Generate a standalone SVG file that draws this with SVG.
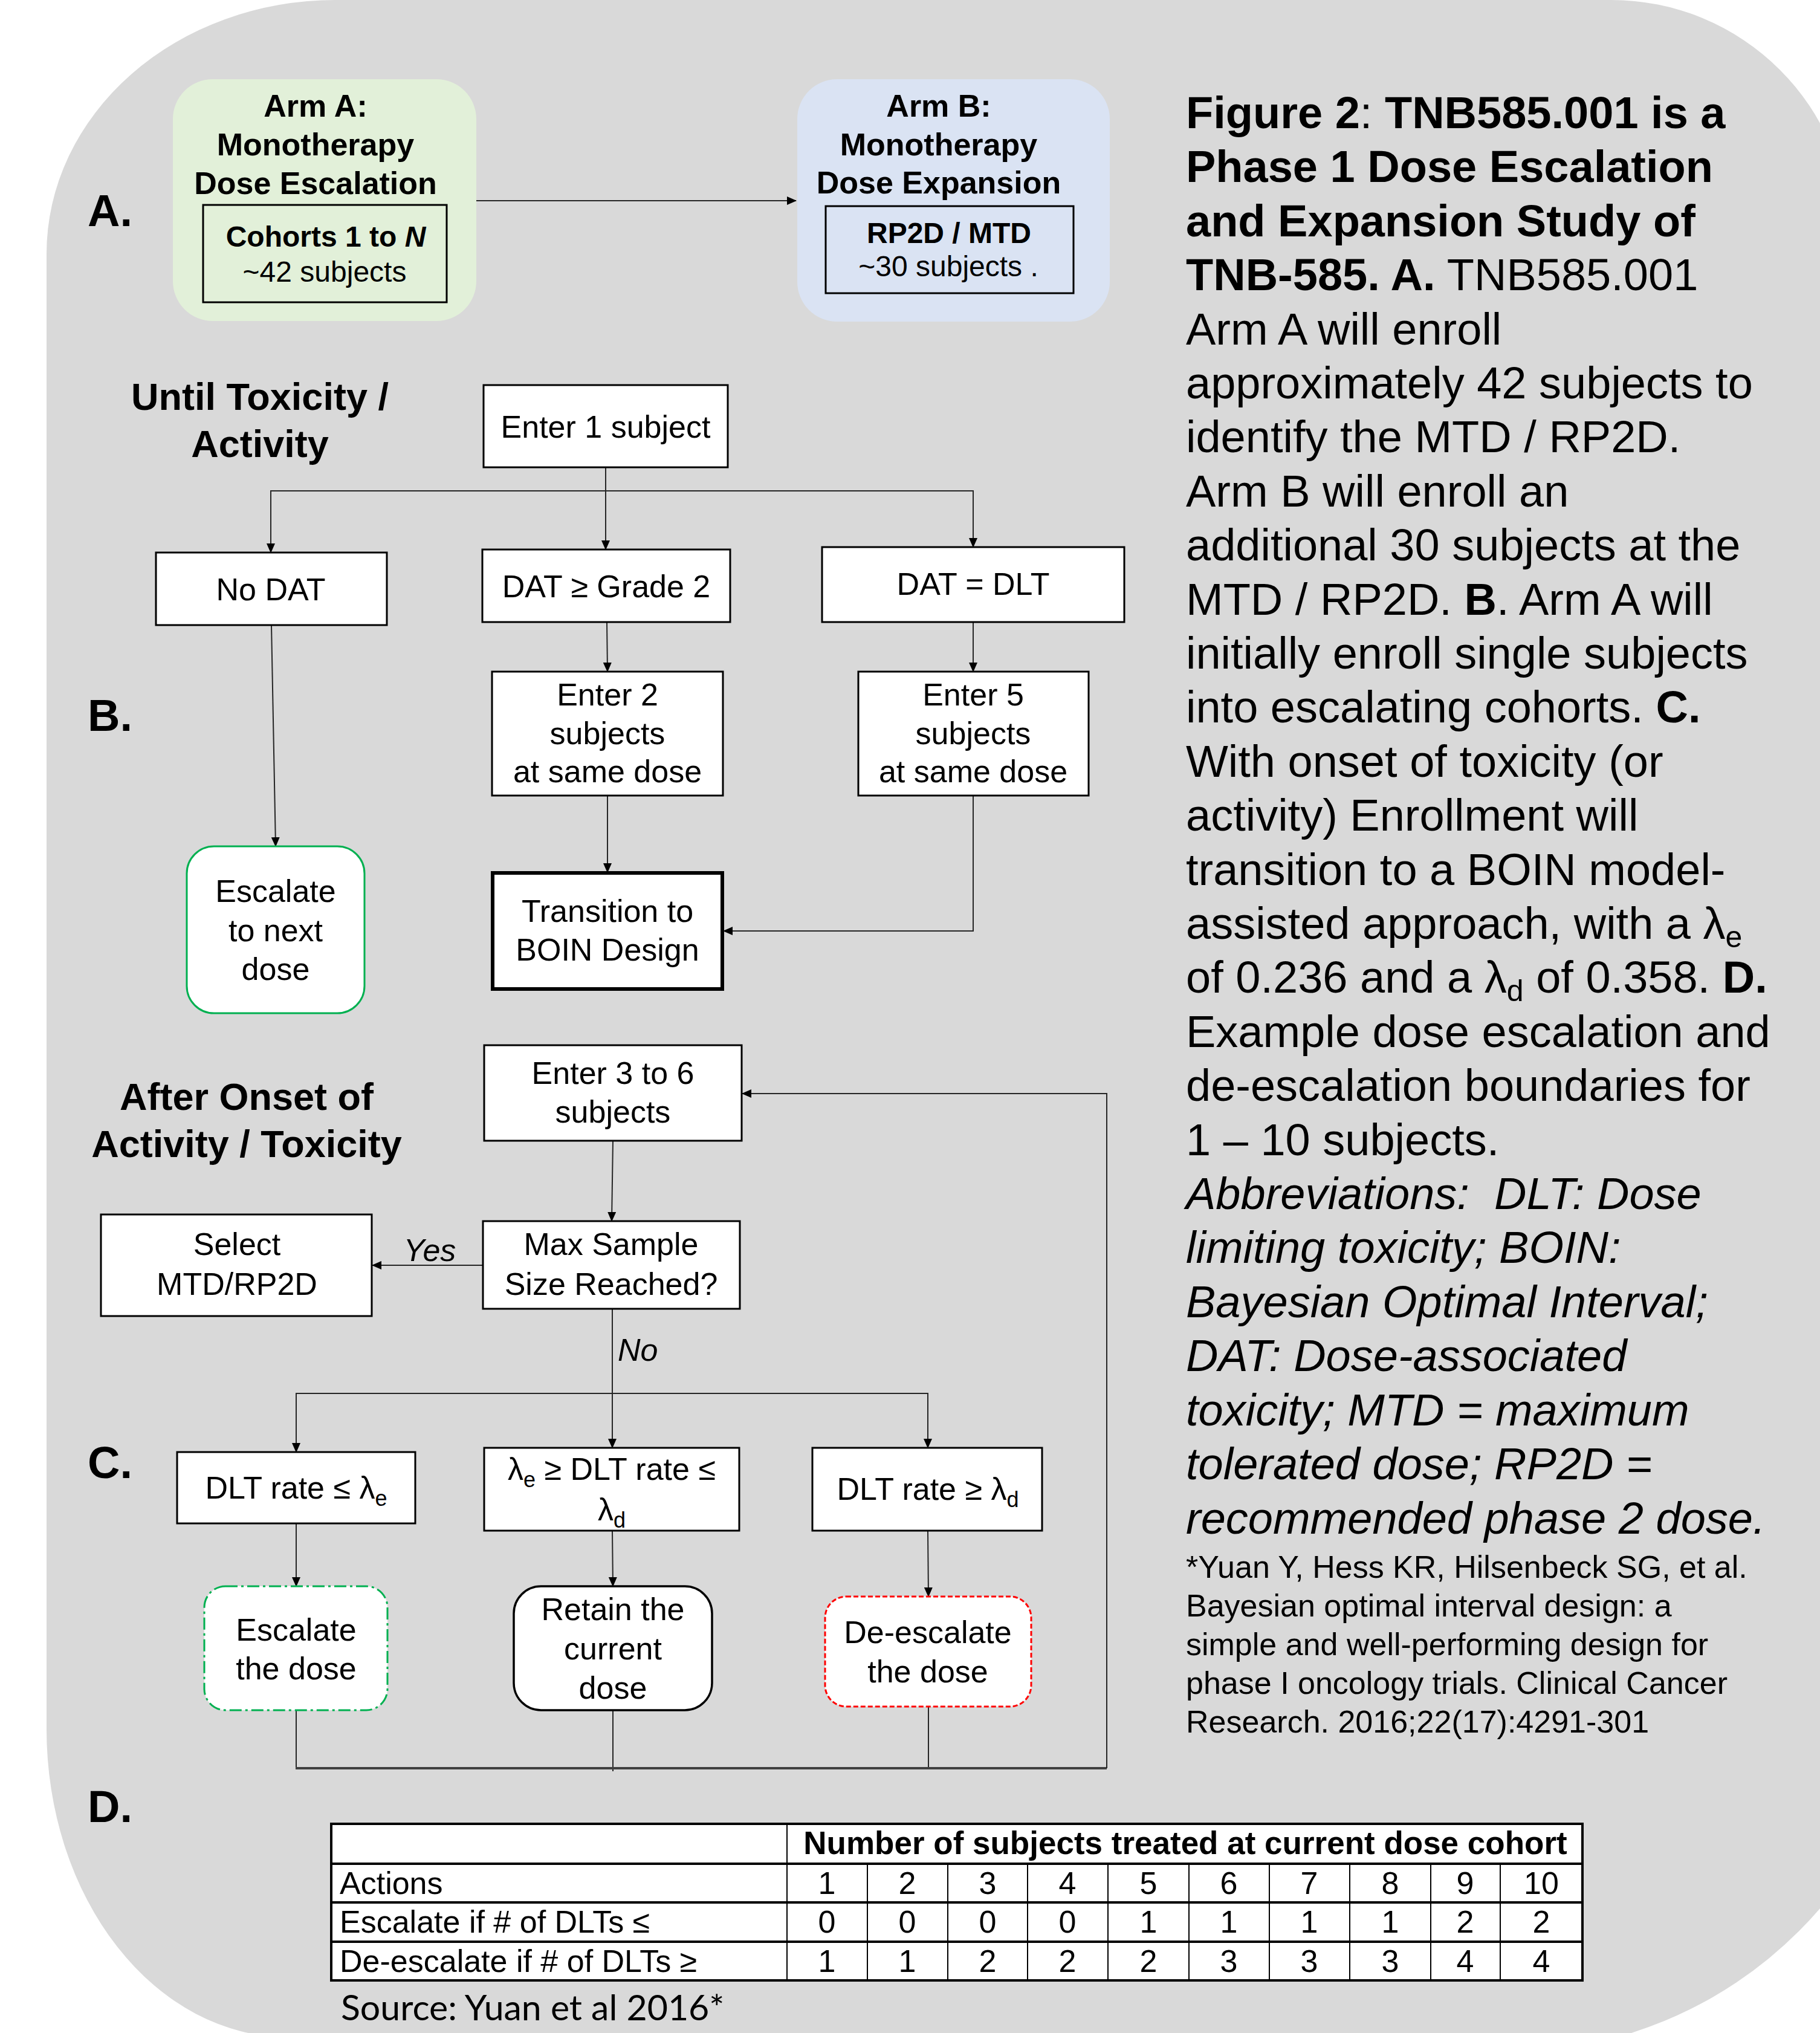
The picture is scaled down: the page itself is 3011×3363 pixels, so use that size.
<svg xmlns="http://www.w3.org/2000/svg" width="3011" height="3363" viewBox="0 0 3011 3363">
<style>
text{font-family:"Liberation Sans",Arial,sans-serif;fill:#000}
.c{text-anchor:middle}
.f52{font-size:52px}
.f48{font-size:48px}
.b{font-weight:bold}
.i{font-style:italic}
.box{fill:#fff;stroke:#000;stroke-width:3}
.con{fill:none;stroke:#262626;stroke-width:2}
.cap{font-size:74px}
.ref{font-size:52px}
.lbl{font-size:74px;font-weight:bold}
.hdr{font-size:63px;font-weight:bold;text-anchor:middle}
.tb{font-size:52px}
.grid{stroke:#000;stroke-width:2;fill:none}
.gridh{stroke:#000;stroke-width:4;fill:none}
</style>
<defs>
<marker id="ah" markerUnits="userSpaceOnUse" markerWidth="16" markerHeight="14" refX="15" refY="7" orient="auto">
<path d="M0,0 L16,7 L0,14 Z" fill="#000"/>
</marker>
</defs>
<rect x="0" y="0" width="3011" height="3363" fill="#fff"/>
<path id="background" d="M77,420 A478,420 0 0 1 555,0 L2666,0 A394,394 0 0 1 3060,394 L3177,2710 A685,685 0 0 1 2492,3395 L477,3370 A400,510 0 0 1 77,2860 Z" fill="#d9d9d9"/>

<g id="section-labels">
<text class="lbl" x="145" y="374">A.</text>
<text class="lbl" x="145" y="1209">B.</text>
<text class="lbl" x="145" y="2445">C.</text>
<text class="lbl" x="145" y="3014">D.</text>
<text class="hdr" x="430" y="678">Until Toxicity /</text>
<text class="hdr" x="430" y="756">Activity</text>
<text class="hdr" x="408" y="1836">After Onset of</text>
<text class="hdr" x="408" y="1914">Activity / Toxicity</text>
</g>

<g id="connectors">
<path class="con" d="M788,332 H1317" marker-end="url(#ah)"/>
<path class="con" d="M1002,773 V909" marker-end="url(#ah)"/>
<path class="con" d="M448,914 V812 H1610 V905" marker-end="url(#ah)"/>
<path class="con" d="M448,812 V914" marker-end="url(#ah)"/>
<path class="con" d="M449,1034 L456,1400" marker-end="url(#ah)"/>
<path class="con" d="M1004,1029 L1005,1111" marker-end="url(#ah)"/>
<path class="con" d="M1610,1029 V1111" marker-end="url(#ah)"/>
<path class="con" d="M1005,1316 V1443" marker-end="url(#ah)"/>
<path class="con" d="M1610,1316 V1540 H1197" marker-end="url(#ah)"/>
<path class="con" d="M1014,1887 L1012,2020" marker-end="url(#ah)"/>
<path class="con" d="M799,2093 H616" marker-end="url(#ah)"/>
<path class="con" d="M1013,2165 V2395" marker-end="url(#ah)"/>
<path class="con" d="M490,2402 V2305 H1535 V2395" marker-end="url(#ah)"/>
<path class="con" d="M490,2305 V2402" marker-end="url(#ah)"/>
<path class="con" d="M490,2520 V2624" marker-end="url(#ah)"/>
<path class="con" d="M1013,2532 L1014,2624" marker-end="url(#ah)"/>
<path class="con" d="M1535,2532 L1536,2641" marker-end="url(#ah)"/>
<path class="con" d="M490,2829 V2925"/>
<path class="con" d="M1014,2829 V2930"/>
<path class="con" d="M1536,2824 V2927"/>
<path class="con" d="M489,2925 H1831" style="stroke-width:4;stroke:#404040"/>
<path class="con" d="M1831,2925 V1809 H1228" marker-end="url(#ah)"/>
<text class="f52 i c" x="711" y="2086">Yes</text>
<text class="f52 i" x="1022" y="2251">No</text>
</g>

<g id="armA">
<rect x="286" y="131" width="502" height="400" rx="66" fill="#e2f0d9"/>
<text class="f52 b c" x="522" y="193">Arm A:</text>
<text class="f52 b c" x="522" y="257">Monotherapy</text>
<text class="f52 b c" x="522" y="321">Dose Escalation</text>
<rect x="336" y="339" width="403" height="161" fill="none" stroke="#000" stroke-width="3"/>
<text class="f48 b c" x="539" y="408">Cohorts 1 to <tspan class="i">N</tspan></text>
<text class="f48 c" x="537" y="466">~42 subjects</text>
</g>

<g id="armB">
<rect x="1319" y="131" width="517" height="401" rx="66" fill="#dae3f3"/>
<text class="f52 b c" x="1553" y="193">Arm B:</text>
<text class="f52 b c" x="1553" y="257">Monotherapy</text>
<text class="f52 b c" x="1553" y="320">Dose Expansion</text>
<rect x="1366" y="341" width="410" height="144" fill="none" stroke="#000" stroke-width="3"/>
<text class="f48 b c" x="1570" y="402">RP2D / MTD</text>
<text class="f48 c" x="1569" y="457">~30 subjects .</text>
</g>

<g id="enter1">
<rect class="box" x="800" y="637" width="404" height="136"/>
<text class="f52 c" x="1002" y="724">Enter 1 subject</text>
</g>
<g id="noDAT">
<rect class="box" x="258" y="914" width="382" height="120"/>
<text class="f52 c" x="448" y="993">No DAT</text>
</g>
<g id="datGrade2">
<rect class="box" x="798" y="909" width="410" height="120"/>
<text class="f52 c" x="1003" y="988">DAT ≥ Grade 2</text>
</g>
<g id="datDLT">
<rect class="box" x="1360" y="905" width="500" height="124"/>
<text class="f52 c" x="1610" y="984">DAT = DLT</text>
</g>
<g id="enter2">
<rect class="box" x="814" y="1111" width="382" height="205"/>
<text class="f52 c" x="1005" y="1167">Enter 2</text>
<text class="f52 c" x="1005" y="1231">subjects</text>
<text class="f52 c" x="1005" y="1294">at same dose</text>
</g>
<g id="enter5">
<rect class="box" x="1420" y="1111" width="381" height="205"/>
<text class="f52 c" x="1610" y="1167">Enter 5</text>
<text class="f52 c" x="1610" y="1231">subjects</text>
<text class="f52 c" x="1610" y="1294">at same dose</text>
</g>
<g id="escalateNext">
<rect x="309" y="1400" width="294" height="276" rx="45" fill="#fff" stroke="#00b050" stroke-width="3"/>
<text class="f52 c" x="456" y="1492">Escalate</text>
<text class="f52 c" x="456" y="1557">to next</text>
<text class="f52 c" x="456" y="1621">dose</text>
</g>
<g id="transition">
<rect x="815" y="1444" width="380" height="192" fill="#fff" stroke="#000" stroke-width="6"/>
<text class="f52 c" x="1005" y="1525">Transition to</text>
<text class="f52 c" x="1005" y="1589">BOIN Design</text>
</g>

<g id="enter3to6">
<rect class="box" x="801" y="1729" width="426" height="158"/>
<text class="f52 c" x="1014" y="1793">Enter 3 to 6</text>
<text class="f52 c" x="1014" y="1857">subjects</text>
</g>
<g id="selectMTD">
<rect class="box" x="167" y="2009" width="448" height="168"/>
<text class="f52 c" x="392" y="2076">Select</text>
<text class="f52 c" x="392" y="2142">MTD/RP2D</text>
</g>
<g id="maxSample">
<rect class="box" x="799" y="2020" width="425" height="145"/>
<text class="f52 c" x="1011" y="2076">Max Sample</text>
<text class="f52 c" x="1011" y="2142">Size Reached?</text>
</g>
<g id="dltLow">
<rect class="box" x="293" y="2402" width="394" height="118"/>
<text class="f52 c" x="490" y="2479">DLT rate ≤ λ<tspan font-size="36" dy="12">e</tspan></text>
</g>
<g id="dltMid">
<rect class="box" x="801" y="2395" width="422" height="137"/>
<text class="f52 c" x="1012" y="2448">λ<tspan font-size="36" dy="12">e</tspan><tspan dy="-12"> ≥ DLT rate ≤</tspan></text>
<text class="f52 c" x="1012" y="2515">λ<tspan font-size="36" dy="12">d</tspan></text>
</g>
<g id="dltHigh">
<rect class="box" x="1344" y="2395" width="380" height="137"/>
<text class="f52 c" x="1535" y="2481">DLT rate ≥ λ<tspan font-size="36" dy="12">d</tspan></text>
</g>
<g id="escalateDose">
<rect x="338" y="2624" width="303" height="205" rx="35" fill="#fff" stroke="#00b050" stroke-width="3" stroke-dasharray="20 6 4 6"/>
<text class="f52 c" x="490" y="2714">Escalate</text>
<text class="f52 c" x="490" y="2778">the dose</text>
</g>
<g id="retainDose">
<rect x="850" y="2624" width="328" height="205" rx="45" fill="#fff" stroke="#000" stroke-width="3.5"/>
<text class="f52 c" x="1014" y="2680">Retain the</text>
<text class="f52 c" x="1014" y="2745">current</text>
<text class="f52 c" x="1014" y="2810">dose</text>
</g>
<g id="deescalateDose">
<rect x="1365" y="2641" width="341" height="182" rx="35" fill="#fff" stroke="#ff0000" stroke-width="3" stroke-dasharray="8 4"/>
<text class="f52 c" x="1535" y="2718">De-escalate</text>
<text class="f52 c" x="1535" y="2783">the dose</text>
</g>

<g id="caption">
<text class="cap" x="1962" y="212"><tspan class="b">Figure 2</tspan>:<tspan class="b"> TNB585.001 is a</tspan></text>
<text class="cap b" x="1962" y="301">Phase 1 Dose Escalation</text>
<text class="cap b" x="1962" y="391">and Expansion Study of</text>
<text class="cap" x="1962" y="480"><tspan class="b">TNB-585. A.</tspan> TNB585.001</text>
<text class="cap" x="1962" y="570">Arm A will enroll</text>
<text class="cap" x="1962" y="659">approximately 42 subjects to</text>
<text class="cap" x="1962" y="748">identify the MTD / RP2D.</text>
<text class="cap" x="1962" y="838">Arm B will enroll an</text>
<text class="cap" x="1962" y="927">additional 30 subjects at the</text>
<text class="cap" x="1962" y="1017">MTD / RP2D. <tspan class="b">B</tspan>. Arm A will</text>
<text class="cap" x="1962" y="1106">initially enroll single subjects</text>
<text class="cap" x="1962" y="1195">into escalating cohorts. <tspan class="b">C.</tspan></text>
<text class="cap" x="1962" y="1285">With onset of toxicity (or</text>
<text class="cap" x="1962" y="1374">activity) Enrollment will</text>
<text class="cap" x="1962" y="1464">transition to a BOIN model-</text>
<text class="cap" x="1962" y="1553">assisted approach, with a λ<tspan font-size="50" dy="14">e</tspan></text>
<text class="cap" x="1962" y="1642">of 0.236 and a λ<tspan font-size="50" dy="14">d</tspan><tspan dy="-14"> of 0.358. </tspan><tspan class="b">D.</tspan></text>
<text class="cap" x="1962" y="1732">Example dose escalation and</text>
<text class="cap" x="1962" y="1821">de-escalation boundaries for</text>
<text class="cap" x="1962" y="1911">1 – 10 subjects.</text>
<text class="cap i" x="1962" y="2000">Abbreviations:&#160; DLT: Dose</text>
<text class="cap i" x="1962" y="2089">limiting toxicity; BOIN:</text>
<text class="cap i" x="1962" y="2179">Bayesian Optimal Interval;</text>
<text class="cap i" x="1962" y="2268">DAT: Dose-associated</text>
<text class="cap i" x="1962" y="2358">toxicity; MTD = maximum</text>
<text class="cap i" x="1962" y="2447">tolerated dose; RP2D =</text>
<text class="cap i" x="1962" y="2537">recommended phase 2 dose.</text>
<text class="ref" x="1962" y="2610">*Yuan Y, Hess KR, Hilsenbeck SG, et al.</text>
<text class="ref" x="1962" y="2674">Bayesian optimal interval design: a</text>
<text class="ref" x="1962" y="2738">simple and well-performing design for</text>
<text class="ref" x="1962" y="2802">phase I oncology trials. Clinical Cancer</text>
<text class="ref" x="1962" y="2866">Research. 2016;22(17):4291-301</text>
</g>

<g id="table">
<rect x="548" y="3017" width="2070" height="259" fill="#fff" stroke="#000" stroke-width="4"/>
<path class="gridh" d="M548,3083 H2618 M548,3147 H2618 M548,3212 H2618"/>
<path class="grid" d="M1302,3017 V3276 M1435,3083 V3276 M1568,3083 V3276 M1700,3083 V3276 M1833,3083 V3276 M1967,3083 V3276 M2100,3083 V3276 M2233,3083 V3276 M2367,3083 V3276 M2482,3083 V3276"/>
<text class="b c" style="font-size:53px" x="1961" y="3067">Number of subjects treated at current dose cohort</text>
<text class="tb" x="562" y="3133">Actions</text>
<text class="tb" x="562" y="3197">Escalate if # of DLTs ≤</text>
<text class="tb" x="562" y="3262">De-escalate if # of DLTs ≥</text>
<g class="tb c">
<text class="tb c" x="1368" y="3133">1</text><text class="tb c" x="1501" y="3133">2</text><text class="tb c" x="1634" y="3133">3</text><text class="tb c" x="1766" y="3133">4</text><text class="tb c" x="1900" y="3133">5</text><text class="tb c" x="2033" y="3133">6</text><text class="tb c" x="2166" y="3133">7</text><text class="tb c" x="2300" y="3133">8</text><text class="tb c" x="2424" y="3133">9</text><text class="tb c" x="2550" y="3133">10</text>
<text class="tb c" x="1368" y="3197">0</text><text class="tb c" x="1501" y="3197">0</text><text class="tb c" x="1634" y="3197">0</text><text class="tb c" x="1766" y="3197">0</text><text class="tb c" x="1900" y="3197">1</text><text class="tb c" x="2033" y="3197">1</text><text class="tb c" x="2166" y="3197">1</text><text class="tb c" x="2300" y="3197">1</text><text class="tb c" x="2424" y="3197">2</text><text class="tb c" x="2550" y="3197">2</text>
<text class="tb c" x="1368" y="3262">1</text><text class="tb c" x="1501" y="3262">1</text><text class="tb c" x="1634" y="3262">2</text><text class="tb c" x="1766" y="3262">2</text><text class="tb c" x="1900" y="3262">2</text><text class="tb c" x="2033" y="3262">3</text><text class="tb c" x="2166" y="3262">3</text><text class="tb c" x="2300" y="3262">3</text><text class="tb c" x="2424" y="3262">4</text><text class="tb c" x="2550" y="3262">4</text>
</g>
<text x="564" y="3342" style="font-family:Lato,'Liberation Sans',sans-serif;font-size:59px">Source: Yuan et al 2016*</text>
</g>
</svg>
